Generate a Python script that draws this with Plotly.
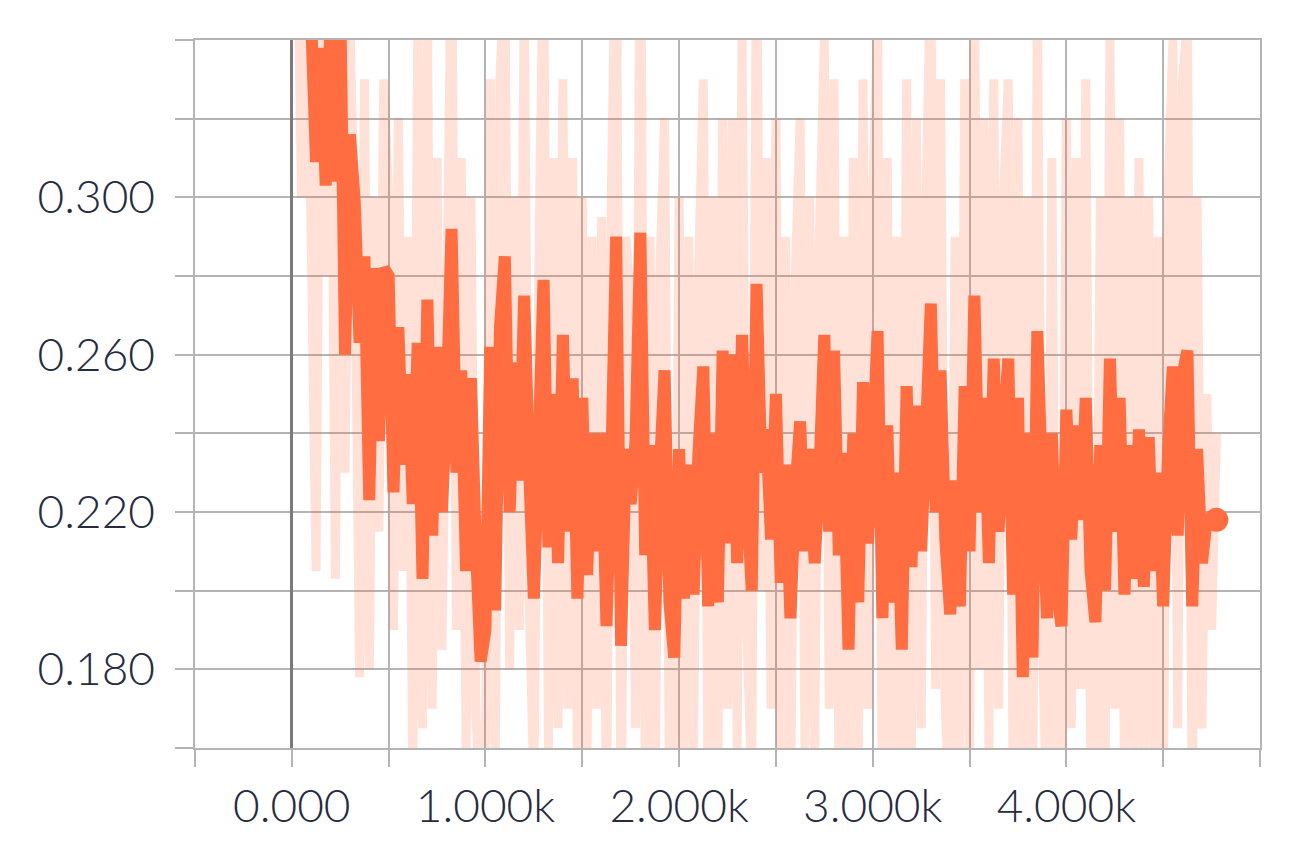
import plotly.graph_objects as go

# training steps (logged every 25 steps)
steps = list(range(25, 4800, 25))

# smoothed curve
smoothed = [
    0.360, 0.355, 0.350, 0.345, 0.309, 0.338, 0.303, 0.345, 0.304, 0.350,
    0.260, 0.316, 0.299, 0.263, 0.285, 0.223, 0.282, 0.238, 0.282,
    0.280, 0.225, 0.267, 0.232, 0.255, 0.222, 0.263, 0.203, 0.274, 0.214,
    0.262, 0.220, 0.248, 0.292, 0.230, 0.256, 0.205, 0.254, 0.212, 0.182,
    0.190, 0.262, 0.195, 0.267, 0.285, 0.220, 0.258, 0.228, 0.275, 0.232,
    0.198, 0.237, 0.279, 0.211, 0.250, 0.207, 0.265, 0.215, 0.254, 0.198,
    0.249, 0.204, 0.240, 0.210, 0.240, 0.191, 0.232, 0.290, 0.186, 0.236,
    0.222, 0.238, 0.291, 0.209, 0.237, 0.190, 0.230, 0.256, 0.197, 0.183,
    0.236, 0.198, 0.232, 0.199, 0.235, 0.257, 0.196, 0.240, 0.197, 0.261,
    0.212, 0.260, 0.207, 0.265, 0.225, 0.200, 0.278, 0.230, 0.241, 0.213,
    0.250, 0.202, 0.232, 0.193, 0.225, 0.243, 0.210, 0.236, 0.207, 0.230,
    0.265, 0.215, 0.261, 0.209, 0.235, 0.185, 0.240, 0.197, 0.253, 0.212,
    0.236, 0.266, 0.193, 0.242, 0.197, 0.230, 0.185, 0.252, 0.206, 0.247,
    0.210, 0.240, 0.273, 0.220, 0.256, 0.213, 0.194, 0.228, 0.196, 0.252,
    0.210, 0.275, 0.220, 0.249, 0.207, 0.259, 0.215, 0.240, 0.259, 0.199,
    0.249, 0.178, 0.240, 0.183, 0.266, 0.225, 0.193, 0.240, 0.200, 0.191,
    0.246, 0.213, 0.242, 0.218, 0.249, 0.205, 0.192, 0.237, 0.200, 0.259,
    0.215, 0.249, 0.199, 0.237, 0.203, 0.241, 0.201, 0.239, 0.205, 0.230,
    0.196, 0.235, 0.257, 0.214, 0.255, 0.261, 0.196, 0.236, 0.207, 0.218,
    0.218, 0.218,
]

# raw values
raw = [
    0.380, 0.300, 0.370, 0.290, 0.205, 0.375, 0.280, 0.360, 0.203, 0.380,
    0.230, 0.345, 0.290, 0.178, 0.330, 0.180, 0.300, 0.215, 0.330,
    0.300, 0.190, 0.320, 0.205, 0.290, 0.150, 0.340, 0.165, 0.350, 0.170,
    0.310, 0.185, 0.270, 0.370, 0.190, 0.310, 0.160, 0.300, 0.170, 0.140,
    0.160, 0.330, 0.150, 0.330, 0.360, 0.180, 0.300, 0.190, 0.350, 0.200,
    0.150, 0.280, 0.370, 0.160, 0.310, 0.165, 0.330, 0.170, 0.310, 0.155,
    0.300, 0.160, 0.290, 0.170, 0.295, 0.140, 0.300, 0.380, 0.135, 0.290,
    0.270, 0.165, 0.390, 0.150, 0.290, 0.140, 0.280, 0.320, 0.150, 0.140,
    0.300, 0.150, 0.290, 0.160, 0.280, 0.330, 0.145, 0.300, 0.150, 0.320,
    0.170, 0.320, 0.160, 0.340, 0.190, 0.150, 0.370, 0.200, 0.310, 0.170,
    0.320, 0.150, 0.290, 0.140, 0.280, 0.320, 0.160, 0.300, 0.160, 0.290,
    0.340, 0.170, 0.330, 0.155, 0.290, 0.130, 0.310, 0.150, 0.330, 0.170,
    0.300, 0.345, 0.140, 0.310, 0.150, 0.290, 0.130, 0.330, 0.160, 0.320,
    0.165, 0.300, 0.360, 0.175, 0.330, 0.170, 0.140, 0.290, 0.150, 0.330,
    0.160, 0.360, 0.180, 0.320, 0.160, 0.330, 0.170, 0.300, 0.330, 0.150,
    0.320, 0.125, 0.300, 0.135, 0.350, 0.190, 0.140, 0.310, 0.150, 0.140,
    0.320, 0.165, 0.310, 0.175, 0.330, 0.160, 0.140, 0.300, 0.150, 0.340,
    0.170, 0.320, 0.150, 0.300, 0.155, 0.310, 0.150, 0.300, 0.160, 0.290,
    0.145, 0.300, 0.340, 0.165, 0.330, 0.345, 0.140, 0.300, 0.165, 0.250,
    0.190, 0.240,
]

x_ticks = [-500, 0, 500, 1000, 1500, 2000, 2500, 3000, 3500, 4000, 4500, 5000]
x_labels = ["", "0.000", "", "1.000k", "", "2.000k", "", "3.000k", "", "4.000k", "", ""]
y_ticks = [0.16, 0.18, 0.20, 0.22, 0.24, 0.26, 0.28, 0.30, 0.32, 0.34]
y_labels = ["", "0.180", "", "0.220", "", "0.260", "", "0.300", "", ""]

color = "#ff6d40"
grid = "#b4b4b4"

fig = go.Figure()

fig.add_trace(go.Scatter(
    x=steps, y=raw, mode="lines",
    line=dict(color=color, width=9, simplify=False),
    opacity=0.2, hoverinfo="skip", showlegend=False
))

fig.add_trace(go.Scatter(
    x=steps, y=smoothed, mode="lines",
    line=dict(color=color, width=12, simplify=False),
    showlegend=False
))

# dot at the end of the smoothed line
fig.add_trace(go.Scatter(
    x=steps[-1:], y=smoothed[-1:], mode="markers",
    marker=dict(color=color, size=24),
    showlegend=False
))

tick_font = dict(family="Lato", size=46, color="#282b40", weight=300)

# page body has an 8px margin, so the figure is a bit smaller than the window
fig.update_layout(
    width=1300, height=848,
    margin=dict(l=187, r=48, t=32, b=108),
    paper_bgcolor="white", plot_bgcolor="white",
)

fig.update_xaxes(
    range=[-500, 5000], tickvals=x_ticks, ticktext=x_labels,
    showgrid=True, gridcolor=grid, gridwidth=1.5,
    ticks="outside", ticklen=17, tickcolor=grid, tickwidth=1.5,
    zeroline=True, zerolinecolor="#7a7a7a", zerolinewidth=3,
    showline=True, mirror=True, linecolor=grid, linewidth=1.5,
    tickfont=tick_font, ticklabelstandoff=0,
)
fig.update_yaxes(
    range=[0.16, 0.34], tickvals=y_ticks, ticktext=y_labels,
    showgrid=True, gridcolor=grid, gridwidth=1.5,
    ticks="outside", ticklen=18, tickcolor=grid, tickwidth=1.5,
    zeroline=False,
    showline=True, mirror=True, linecolor=grid, linewidth=1.5,
    tickfont=tick_font, ticklabelstandoff=11,
)

fig.write_html("out.html", config={"displayModeBar": False})
